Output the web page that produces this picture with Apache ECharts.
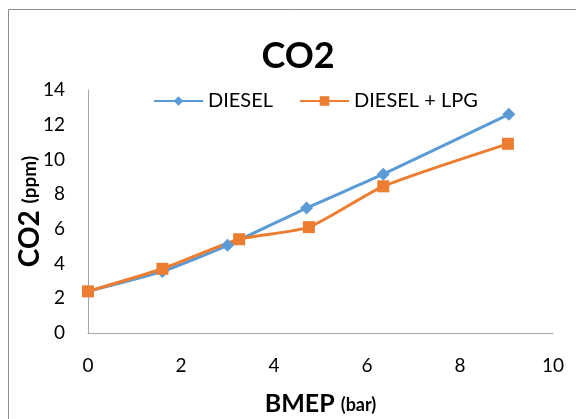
<!DOCTYPE html>
<html><head><meta charset="utf-8">
<script src="https://cdn.jsdelivr.net/npm/echarts@6/dist/echarts.min.js"></script>
<style>html,body{margin:0;padding:0;background:#fff}#c{width:576px;height:419px}</style>
</head><body><div id="c"></div>
<script>
const dieselX = [0, 1.6, 3.0, 4.7, 6.35, 9.05];
const dieselY = [2.4, 3.55, 5.05, 7.2, 9.15, 12.6];
const lpgX = [0, 1.6, 3.25, 4.75, 6.35, 9.03];
const lpgY = [2.4, 3.7, 5.4, 6.1, 8.45, 10.9];
const seriesNames = ['DIESEL', 'DIESEL + LPG'];
const FONT = 'Lato';
const chart = echarts.init(document.getElementById('c'));
chart.setOption({
  animation: false,
  textStyle: {fontFamily: FONT},
  graphic: [{type:'rect', shape:{x:8.5,y:9.5,width:800,height:600}, style:{fill:'none', stroke:'#8c8c8c', lineWidth:1}, z:-1}],
  title: {text:'CO2', left:293, textAlign:'center', top:33, textStyle:{fontFamily:FONT, fontSize:36, fontWeight:'bold', color:'#000'}},
  legend: {top:86, left:148, itemWidth:49, itemHeight:12, itemGap:26,
    textStyle:{fontFamily:FONT, fontSize:20, color:'#000'}, data: seriesNames},
  grid: {left:88, right:23, top:90, bottom:86, outerBoundsMode:'none', containLabel:false},
  xAxis: {type:'value', min:0, max:10, interval:2,
    name:'BMEP {s|(bar)}', nameLocation:'middle', nameGap:58, nameMoveOverlap:false,
    nameTextStyle:{fontFamily:FONT, fontSize:25, fontWeight:'bold', color:'#000', rich:{s:{fontSize:18, fontWeight:'bold', fontFamily:FONT, color:'#000', padding:[4,0,0,0]}}},
    axisLine:{lineStyle:{color:'#a6a6a6', width:1}}, axisTick:{show:false}, splitLine:{show:false},
    axisLabel:{fontSize:19, color:'#000', margin:23, fontFamily:FONT}},
  yAxis: {type:'value', min:0, max:14, interval:2,
    name:'CO2 {s|(ppm)}', nameLocation:'middle', nameGap:44, nameRotate:90, nameMoveOverlap:false,
    nameTextStyle:{fontFamily:FONT, fontSize:28, fontWeight:'bold', color:'#000', rich:{s:{fontSize:19, fontWeight:'bold', fontFamily:FONT, color:'#000'}}},
    axisLine:{show:true, lineStyle:{color:'#a6a6a6', width:1}}, axisTick:{show:false}, splitLine:{show:false},
    axisLabel:{fontSize:19, color:'#000', margin:23, fontFamily:FONT}},
  series: [
    {name:seriesNames[0], type:'line', data: dieselX.map((x,i)=>[x, dieselY[i]]), smooth:0.2,
     symbol:'diamond', symbolSize:13, lineStyle:{width:3, color:'#5B9BD5'}, itemStyle:{color:'#5B9BD5'}},
    {name:seriesNames[1], type:'line', data: lpgX.map((x,i)=>[x, lpgY[i]]), smooth:0.2,
     symbol:'rect', symbolSize:12, lineStyle:{width:3, color:'#ED7D31'}, itemStyle:{color:'#ED7D31'}}
  ]
});
</script></body></html>
